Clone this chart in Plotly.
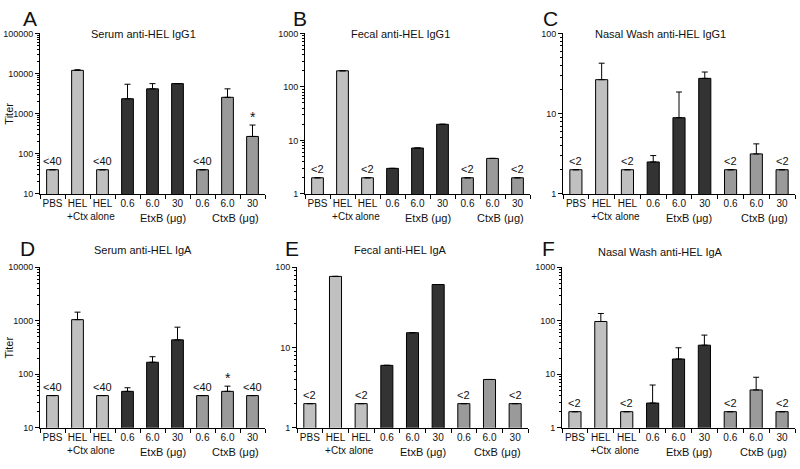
import math
import plotly.graph_objects as go
from plotly.subplots import make_subplots

# group labels along the x axis
tick_labels = ["PBS", "HEL<br>+Ctx", "HEL<br>alone", "0.6", "6.0", "30", "0.6", "6.0", "30"]
group_labels = ["EtxB (\u03bcg)", "CtxB (\u03bcg)"]
bar_colors = ["#c0c0c0"] * 3 + ["#333333"] * 3 + ["#9a9a9a"] * 3

# titers (mean, upper error)
serum_igg1 = [40, 12000, 40, 2350, 4150, 5600, 40, 2550, 270]
serum_igg1_err = [0, 400, 0, 3050, 1450, 0, 0, 1600, 250]
fecal_igg1 = [2, 200, 2, 3, 7.2, 20, 2, 4.6, 2]
fecal_igg1_err = [0, 0, 0, 0, 0, 0, 0, 0, 0]
nasal_igg1 = [2, 26.5, 2, 2.5, 8.9, 27.5, 2, 3.15, 2]
nasal_igg1_err = [0, 16, 0, 0.5, 9.7, 5.5, 0, 1.05, 0]
serum_iga = [40, 1050, 40, 48, 168, 440, 40, 48, 40]
serum_iga_err = [0, 400, 0, 8, 45, 320, 0, 12, 0]
fecal_iga = [2, 77, 2, 6, 15.3, 61, 2, 4, 2]
fecal_iga_err = [0, 0, 0, 0, 0, 0, 0, 0, 0]
nasal_iga = [2, 97, 2, 2.9, 19.3, 35, 2, 5.1, 2]
nasal_iga_err = [0, 40, 0, 3.4, 12, 19, 0, 3.7, 0]

panels = [
    ("A", "Serum anti-HEL IgG1", serum_igg1, serum_igg1_err, [1, 5], "<40", [0, 2, 6], [8]),
    ("B", "Fecal anti-HEL IgG1", fecal_igg1, fecal_igg1_err, [0, 3], "<2", [0, 2, 6, 8], []),
    ("C", "Nasal Wash anti-HEL IgG1", nasal_igg1, nasal_igg1_err, [0, 2], "<2", [0, 2, 6, 8], []),
    ("D", "Serum anti-HEL IgA", serum_iga, serum_iga_err, [1, 4], "<40", [0, 2, 6, 8], [7]),
    ("E", "Fecal anti-HEL IgA", fecal_iga, fecal_iga_err, [0, 2], "<2", [0, 2, 6, 8], []),
    ("F", "Nasal Wash anti-HEL IgA", nasal_iga, nasal_iga_err, [0, 3], "<2", [0, 2, 6, 8], []),
]

# plot areas in pixels (left, right, top, bottom) of the 800x469 figure
W, H = 800, 469
boxes = [(40, 265, 29, 193), (305, 530, 29, 193), (563, 795, 29, 193),
         (40, 265, 268, 432), (297, 528, 268, 432), (562, 795, 268, 432)]
letter_pos = [(30, 14), (300, 14), (550, 14), (27, 249), (292, 249), (548, 249)]
title_pos = [(143, 30), (400, 30), (660, 30), (143, 250), (400, 250), (660, 252)]

FONT = "Arial, Liberation Sans, sans-serif"
fig = make_subplots(rows=2, cols=3)
x = list(range(9))
bounds = [k - 0.5 for k in range(10)]

for i, (letter, title, vals, errs, yr, lt, lt_idx, star_idx) in enumerate(panels):
    r, c = i // 3 + 1, i % 3 + 1
    fig.add_trace(go.Bar(
        x=x, y=vals, marker=dict(color=bar_colors, line=dict(color="black", width=1)),
        width=0.47,
        error_y=dict(type="data", array=errs, arrayminus=[0] * 9, symmetric=False,
                     color="black", thickness=1, width=3, visible=True),
        showlegend=False, hoverinfo="skip"), row=r, col=c)

    l, rgt, t, b = boxes[i]
    xa = "xaxis" if i == 0 else f"xaxis{i + 1}"
    ya = "yaxis" if i == 0 else f"yaxis{i + 1}"
    xref = "x" if i == 0 else f"x{i + 1}"
    yref = "y" if i == 0 else f"y{i + 1}"
    fig.layout[xa].update(
        domain=[l / W, rgt / W], range=[-0.5, 8.5], tickmode="array", tickvals=x,
        ticktext=tick_labels, tickangle=0,
        ticks="", showline=True, linecolor="black", linewidth=1, showgrid=False,
        zeroline=False, tickfont=dict(size=10, color="#111"),
        minor=dict(ticks="outside", tickmode="array", tickvals=bounds, ticklen=4,
                   tickcolor="black", showgrid=False))
    minor_y = [m * 10 ** d for d in range(yr[0], yr[1]) for m in range(2, 10)]
    fig.layout[ya].update(
        domain=[1 - b / H, 1 - t / H], type="log", range=yr, dtick=1, tickformat="d",
        showline=True, linecolor="black", linewidth=1,
        showgrid=False, ticks="outside", ticklen=4, tickcolor="black",
        tickfont=dict(size=9, color="#111"),
        minor=dict(ticks="outside", tickmode="array", tickvals=minor_y, ticklen=2,
                   tickcolor="black", showgrid=False))

    for gx, g in zip([4.4, 7.3], group_labels):
        fig.add_annotation(x=gx, y=0, xref=xref, yref=f"{yref} domain", text=g,
                           showarrow=False, yanchor="top", yshift=-16,
                           font=dict(size=11, color="#111"))
    for k in lt_idx:
        fig.add_annotation(x=k, y=math.log10(vals[k]), xref=xref, yref=yref, text=lt,
                           showarrow=False, yanchor="bottom", yshift=1,
                           font=dict(size=11, color="#111"))
    for k in star_idx:
        fig.add_annotation(x=k, y=math.log10(vals[k] + errs[k]), xref=xref, yref=yref,
                           text="*", showarrow=False, yanchor="bottom", yshift=-2,
                           font=dict(size=14, color="#111"))

    tx, ty = title_pos[i]
    fig.add_annotation(x=tx / W, y=1 - ty / H, xref="paper", yref="paper",
                       xanchor="center", yanchor="middle",
                       text=title, showarrow=False, font=dict(size=11, color="#111"))
    lx, ly = letter_pos[i]
    fig.add_annotation(x=lx / W, y=1 - ly / H, xref="paper", yref="paper", text=letter,
                       xanchor="center", yanchor="middle",
                       showarrow=False, font=dict(size=21, color="#111"))
    if c == 1:
        fig.add_annotation(x=9 / W, y=1 - (t + b) / 2 / H, xref="paper", yref="paper",
                           xanchor="center", yanchor="middle",
                           text="Titer", textangle=-90, showarrow=False,
                           font=dict(size=11, color="#111"))

fig.update_layout(width=W, height=H, margin=dict(l=0, r=0, t=0, b=0),
                  plot_bgcolor="white", paper_bgcolor="white",
                  font=dict(family=FONT, color="#111"))
# drop the browser's default body margin so the figure sits at the page corner
fig.write_html("out.html", config={"displayModeBar": False},
               post_script="document.body.style.margin='0';")
